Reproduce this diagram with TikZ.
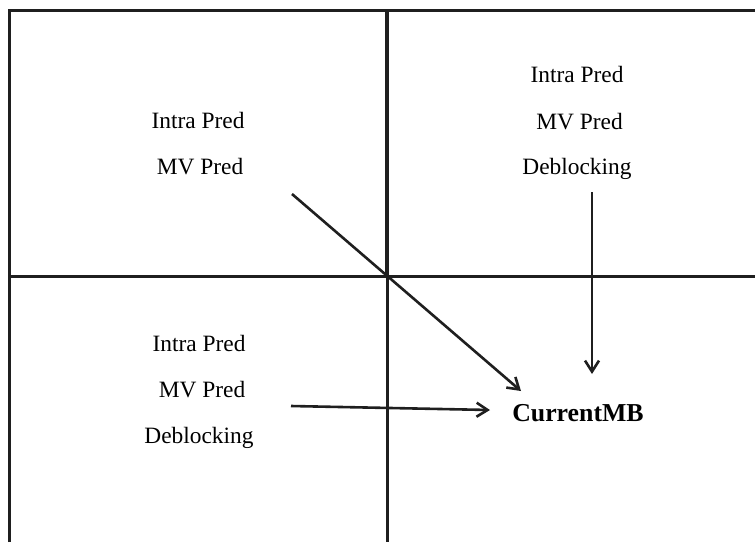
\documentclass[tikz,border=0pt]{standalone}
\usepackage{fontspec}
\setmainfont{Liberation Serif}
\usetikzlibrary{arrows.meta}
\begin{document}
\begin{tikzpicture}[x=1pt,y=-1pt,
  lbl/.style={font=\fontsize{23.4}{28}\selectfont, inner sep=0pt, anchor=base},
  grid/.style={line width=3pt, color=black!88},
  flow/.style={line width=2.6pt, color=black!88, -{Straight Barb[length=11pt,width=14pt,line width=2.6pt]}}]
\useasboundingbox (0,0) rectangle (755,542);
% block boundaries
\draw[grid] (9,542) -- (9,10) -- (755,10);
\draw[grid] (9,276) -- (755,276);
\draw[grid, line width=4pt] (387,10) -- (387,276);
\draw[grid] (387,276) -- (387,542);
% labels of the neighbouring blocks
\node[lbl] (a1) at (198,128) {Intra Pred};
\node[lbl] (a2) at (200,174) {MV Pred};
\node[lbl] (b1) at (577,82) {Intra Pred};
\node[lbl] (b2) at (579.5,129) {MV Pred};
\node[lbl] (b3) at (577,174) {Deblocking};
\node[lbl] (c1) at (199,351.5) {Intra Pred};
\node[lbl] (c2) at (202,397.5) {MV Pred};
\node[lbl] (c3) at (199,443) {Deblocking};
\node[lbl, font=\fontsize{25.8}{30}\selectfont\bfseries] (cur) at (578,421.5) {CurrentMB};
% arrow end points
\coordinate (s1) at (292,194);
\coordinate (e1) at (521,391);
\coordinate (s2) at (592,192);
\coordinate (e2) at (592,374);
\coordinate (s3) at (291,406);
\coordinate (e3) at (490,410);
\draw[flow] (s1) -- (e1);
\draw[flow] (s2) -- (e2);
\draw[flow] (s3) -- (e3);
\end{tikzpicture}
\end{document}
